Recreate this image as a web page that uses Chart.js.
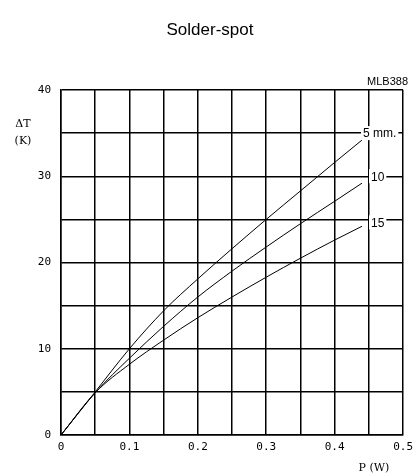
<!DOCTYPE html>
<html>
<head>
<meta charset="utf-8">
<script src="https://cdn.jsdelivr.net/npm/chart.js@4/dist/chart.umd.min.js"></script>
<style>
  html, body { margin: 0; padding: 0; background: #fff; }
  #wrap { width: 419px; height: 475px; }
</style>
</head>
<body>
<div id="wrap"><canvas id="solderChart" width="419" height="475"></canvas></div>
<script>
// power P (W)
const powerW = [0, 0.05, 0.1, 0.15, 0.2, 0.25, 0.3, 0.35, 0.4, 0.44];
// temperature rise dT (K) per spot distance
const rise5mm = [0, 5.0, 10.0, 14.4, 18.1, 21.6, 25.0, 28.3, 31.6, 34.2];
const rise10mm = [0, 4.9, 8.9, 12.6, 16.0, 19.0, 21.8, 24.5, 27.1, 29.2];
const rise15mm = [0, 4.9, 8.2, 11.0, 13.6, 16.0, 18.3, 20.5, 22.6, 24.2];
const curveLabels = ['5 mm.', '10', '15'];
const xTicks = [0, 0.1, 0.2, 0.3, 0.4, 0.5];
const yTicks = [0, 10, 20, 30, 40];

function toPoints(ys) {
    return powerW.map((x, i) => ({ x: x, y: ys[i] }));
}

function curve(ys) {
    return {
        data: toPoints(ys),
        borderColor: '#000',
        borderWidth: 1,
        pointRadius: 0,
        showLine: true,
        cubicInterpolationMode: 'monotone',
        fill: false
    };
}

// title, axis names and curve labels
const textPlugin = {
    id: 'texts',
    afterDatasetsDraw(chart) {
        const ctx = chart.ctx;
        const ys = chart.scales.y;
        ctx.save();
        ctx.fillStyle = '#000';

        ctx.font = '17px "Liberation Sans", Arial, sans-serif';
        ctx.textAlign = 'center';
        ctx.textBaseline = 'middle';
        ctx.fillText('Solder-spot', 210, 30);

        ctx.font = '11px "Liberation Sans", Arial, sans-serif';
        ctx.textAlign = 'right';
        ctx.fillText('MLB388', 408, 82);

        ctx.font = '11px "DejaVu Serif", serif';
        ctx.textAlign = 'center';
        ctx.fillText('\u0394T', 23, 124);
        ctx.fillText('(K)', 23, 141);
        ctx.fillText('P (W)', 374, 468);

        // curve labels sit on the grid with a white box behind
        ctx.font = '12px "Liberation Sans", Arial, sans-serif';
        ctx.textAlign = 'left';
        const ends = [35, 30, 25];
        const lefts = [363, 371, 371];
        curveLabels.forEach((t, i) => {
            const y = ys.getPixelForValue(ends[i]) + (i === 2 ? 3 : 0);
            const w = ctx.measureText(t).width;
            ctx.fillStyle = '#fff';
            ctx.fillRect(lefts[i] - 2, y - 7, w + 4, 14);
            ctx.fillStyle = '#000';
            ctx.fillText(t, lefts[i], y + 1);
        });
        ctx.restore();
    }
};

const ctx = document.getElementById('solderChart').getContext('2d');
const solderChart = new Chart(ctx, {
    type: 'scatter',
    data: {
        datasets: [curve(rise5mm), curve(rise10mm), curve(rise15mm)]
    },
    options: {
        responsive: false,
        animation: false,
        layout: { padding: { top: 90, right: 13, left: 0, bottom: 0 } },
        plugins: {
            legend: { display: false },
            tooltip: { enabled: false }
        },
        scales: {
            x: {
                type: 'linear',
                min: 0,
                max: 0.5,
                afterFit: s => { s.height = 40; },
                afterBuildTicks: s => {
                    const t = [];
                    for (let i = 0; i <= 10; i++) t.push({ value: i * 0.05 });
                    s.ticks = t;
                },
                grid: { color: '#000', lineWidth: 1.5, drawTicks: false },
                border: { color: '#000', width: 1.5 },
                ticks: {
                    padding: 6,
                    color: '#000',
                    maxRotation: 0,
                    autoSkip: false,
                    font: { family: '"DejaVu Sans Mono", monospace', size: 11 },
                    callback: function(v) {
                        const r = Math.round(v * 100) / 100;
                        const hit = xTicks.find(t => Math.abs(t - r) < 1e-6);
                        return hit === undefined ? '' : String(hit);
                    }
                }
            },
            y: {
                type: 'linear',
                min: 0,
                max: 40,
                afterFit: s => { s.width = 61; },
                afterBuildTicks: s => {
                    const t = [];
                    for (let i = 0; i <= 8; i++) t.push({ value: i * 5 });
                    s.ticks = t;
                },
                grid: { color: '#000', lineWidth: 1.5, drawTicks: false },
                border: { color: '#000', width: 1.5 },
                ticks: {
                    padding: 10,
                    color: '#000',
                    autoSkip: false,
                    font: { family: '"DejaVu Sans Mono", monospace', size: 11 },
                    callback: function(v) {
                        return yTicks.includes(v) ? String(v) : '';
                    }
                }
            }
        }
    },
    plugins: [textPlugin]
});
</script>
</body>
</html>
